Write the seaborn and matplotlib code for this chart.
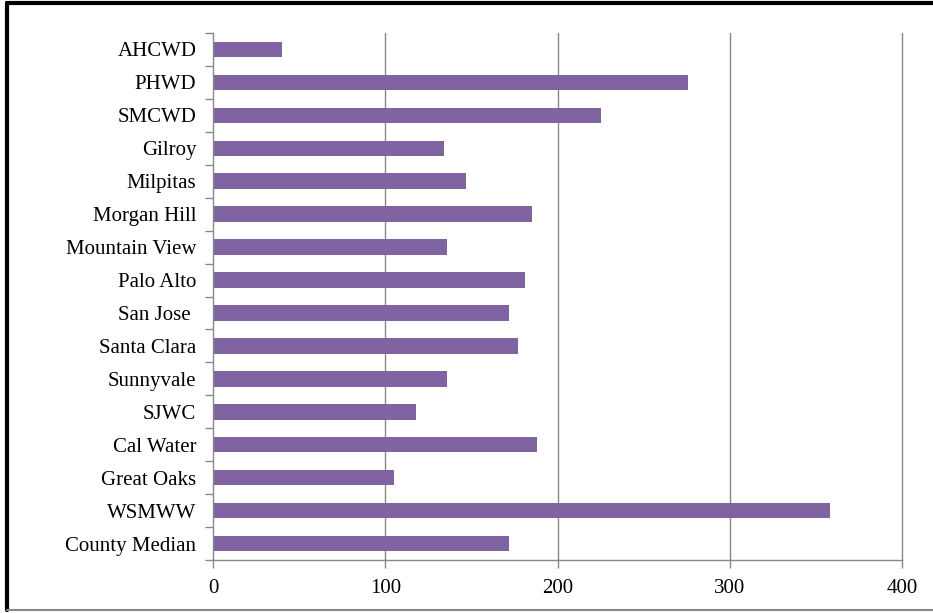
import matplotlib
matplotlib.use("Agg")
import matplotlib.pyplot as plt
import seaborn as sns
import pandas as pd
from matplotlib.lines import Line2D

categories = ["AHCWD", "PHWD", "SMCWD", "Gilroy", "Milpitas", "Morgan Hill",
              "Mountain View", "Palo Alto", "San Jose ", "Santa Clara", "Sunnyvale",
              "SJWC", "Cal Water", "Great Oaks", "WSMWW", "County Median"]
values = [40, 276, 225, 134, 147, 185, 136, 181, 172, 177, 136, 118, 188, 105, 358, 172]
xticks = [0, 100, 200, 300, 400]

sns.set_theme(style="white")
plt.rcParams['font.family'] = ['Liberation Serif', 'DejaVu Serif']

df = pd.DataFrame({"name": categories, "value": values})

fig = plt.figure(figsize=(9.33, 6.13), dpi=100)
ax = fig.add_axes([213/933, 1 - 560/613, (902-213)/933, (560-33)/613])

sns.barplot(data=df, y="name", x="value", order=categories, orient="h",
            color="#8064A2", saturation=1, width=0.47, ax=ax, edgecolor="none")

ax.set_xlim(0, 400)
ax.set_ylim(len(categories) - 0.5, -0.5)
ax.set_xticks(xticks)
ax.set_xticklabels([str(t) for t in xticks], fontsize=15)
ax.set_xlabel("")
ax.set_ylabel("")
ax.tick_params(axis="y", which="major", left=False, length=0, labelsize=15, pad=12, labelcolor="black")
ax.set_yticks([i - 0.5 for i in range(len(categories) + 1)], minor=True)
ax.tick_params(axis="y", which="minor", left=True, length=6, width=1, color="#888888", direction="out")
ax.tick_params(axis="x", which="major", bottom=True, length=6, width=1, color="#888888", direction="out",
               labelsize=15, pad=8, labelcolor="black")
ax.grid(False)
for x in xticks[1:]:
    ax.axvline(x, color="#888888", lw=1, zorder=0, clip_on=False)

for s in ["top", "right"]:
    ax.spines[s].set_visible(False)
for s in ["left", "bottom"]:
    ax.spines[s].set_color("#888888")
    ax.spines[s].set_linewidth(1)

# figure border
fig.add_artist(Line2D([7/933, 1.0], [1 - 3/613, 1 - 3/613], color="black", lw=3, transform=fig.transFigure))
fig.add_artist(Line2D([7/933, 7/933], [1 - 3/613, 1 - 610/613], color="black", lw=3, transform=fig.transFigure))
fig.add_artist(Line2D([7/933, 1.0], [1 - 610/613, 1 - 610/613], color="#888888", lw=1.5, transform=fig.transFigure))

fig.savefig("out.png", dpi=100)
